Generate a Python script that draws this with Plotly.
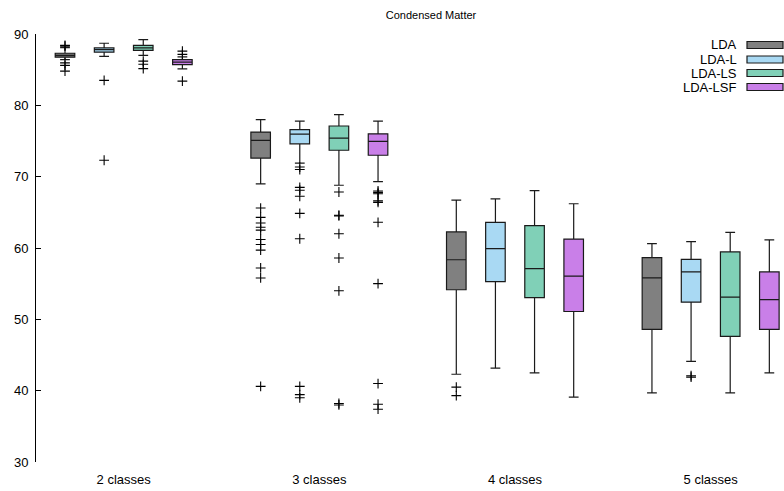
import plotly.graph_objects as go

categories = ["2 classes", "3 classes", "4 classes", "5 classes"]
series = ["LDA", "LDA-L", "LDA-LS", "LDA-LSF"]
colors = ["#808080", "#a9d9f3", "#80d0b7", "#c97fe8"]

lda_lower = [86.4, 69.0, 42.3, 39.7]
lda_q1 = [86.75, 72.6, 54.15, 48.6]
lda_med = [87.0, 75.1, 58.35, 55.8]
lda_q3 = [87.3, 76.25, 62.25, 58.65]
lda_upper = [88.1, 78.0, 66.7, 60.6]
lda_out = [[88.4, 88.3, 85.95, 85.6, 84.8],
           [65.6, 64.3, 63.5, 62.9, 62.5, 61.2, 60.5, 59.7, 57.2, 55.8, 40.6],
           [40.5, 39.3], []]

ldal_lower = [86.85, 71.9, 43.15, 44.1]
ldal_q1 = [87.45, 74.6, 55.3, 52.4]
ldal_med = [87.8, 75.95, 59.9, 56.65]
ldal_q3 = [88.05, 76.6, 63.6, 58.4]
ldal_upper = [88.7, 77.8, 66.9, 60.9]
ldal_out = [[83.5, 72.3],
            [71.35, 71.0, 68.5, 68.1, 67.25, 64.85, 61.3, 40.6, 39.45, 39.0],
            [], [42.1, 41.9]]

ldals_lower = [87.0, 68.8, 42.5, 39.7]
ldals_q1 = [87.7, 73.7, 53.05, 47.6]
ldals_med = [88.05, 75.4, 57.1, 53.1]
ldals_q3 = [88.4, 77.1, 63.15, 59.45]
ldals_upper = [89.2, 78.7, 68.05, 62.2]
ldals_out = [[86.2, 85.75, 85.15],
             [67.85, 64.6, 64.5, 62.0, 58.6, 54.0, 38.2, 38.0],
             [], []]

ldalsf_lower = [85.1, 69.3, 39.1, 42.5]
ldalsf_q1 = [85.7, 73.0, 51.1, 48.6]
ldalsf_med = [86.05, 74.95, 56.05, 52.75]
ldalsf_q3 = [86.4, 76.0, 61.25, 56.65]
ldalsf_upper = [86.8, 77.8, 66.2, 61.15]
ldalsf_out = [[87.6, 87.15, 83.4],
              [68.0, 67.8, 67.6, 66.6, 66.4, 63.6, 55.0, 41.0, 38.1, 37.4],
              [], []]

stats = [
    (lda_lower, lda_q1, lda_med, lda_q3, lda_upper, lda_out),
    (ldal_lower, ldal_q1, ldal_med, ldal_q3, ldal_upper, ldal_out),
    (ldals_lower, ldals_q1, ldals_med, ldals_q3, ldals_upper, ldals_out),
    (ldalsf_lower, ldalsf_q1, ldalsf_med, ldalsf_q3, ldalsf_upper, ldalsf_out),
]

GROUP_STEP = 5
FONT = "Liberation Sans, Arial, Helvetica, sans-serif"

fig = go.Figure()
for k, (name, col, st) in enumerate(zip(series, colors, stats)):
    lo, q1, med, q3, up, outs = st
    xs = [g * GROUP_STEP + k for g in range(len(categories))]
    fig.add_trace(go.Box(
        x=xs, q1=q1, median=med, q3=q3, lowerfence=lo, upperfence=up,
        name=name, fillcolor=col, line=dict(color="#1a1a1a", width=1.2),
        width=0.5, whiskerwidth=0.5, boxpoints=False, showlegend=False,
    ))
    ox, oy = [], []
    for g, vals in enumerate(outs):
        for v in vals:
            ox.append(g * GROUP_STEP + k)
            oy.append(v)
    fig.add_trace(go.Scatter(
        x=ox, y=oy, mode="markers", showlegend=False,
        marker=dict(symbol="cross-thin-open", size=7, color="black",
                    line=dict(color="black", width=1.1)),
    ))

# custom legend (text left of swatch, as in reference)
L, R, T, B = 36, 784, 34, 462
W, H = R - L, B - T
def px(xp):
    return (xp - L) / W
def py(yp):
    return (B - yp) / H
row_y = [45, 59.5, 73, 87]
for name, col, yy in zip(series, colors, row_y):
    fig.add_annotation(x=px(739), y=py(yy), xref="paper", yref="paper",
                       text=name, showarrow=False, xanchor="right",
                       yanchor="middle", font=dict(size=13, color="black", family=FONT))
    fig.add_shape(type="rect", xref="paper", yref="paper",
                  x0=px(747), x1=px(783), y0=py(yy - 3.5), y1=py(yy + 3.5),
                  fillcolor=col, line=dict(color="#1a1a1a", width=1.2))

fig.update_layout(
    width=784, height=491,
    margin=dict(l=L, r=784 - R, t=T, b=491 - B),
    paper_bgcolor="white", plot_bgcolor="white",
    boxmode="overlay",
    font=dict(family=FONT, size=13, color="black"),
    title=dict(text="Condensed Matter", x=(431 - L) / W, xref="paper",
               xanchor="center", y=1 - 15 / 491, yanchor="middle",
               font=dict(size=11, family=FONT, color="black")),
)
fig.update_yaxes(range=[30, 90], tickvals=[30, 40, 50, 60, 70, 80, 90],
                 ticks="inside", ticklen=5, tickcolor="black", tickwidth=1,
                 showline=True, linecolor="black", linewidth=1,
                 showgrid=False, zeroline=False, ticklabelstandoff=4)
fig.update_xaxes(range=[-(65 - L) / 39.13, (R - 65) / 39.13],
                 tickvals=[g * GROUP_STEP + 1.5 for g in range(len(categories))],
                 ticktext=categories, ticks="", showline=False,
                 showgrid=False, zeroline=False, ticklabelstandoff=8)

fig.write_html("out.html", config={"displayModeBar": False},
               post_script="document.body.style.margin='0';document.body.style.overflow='hidden';")
